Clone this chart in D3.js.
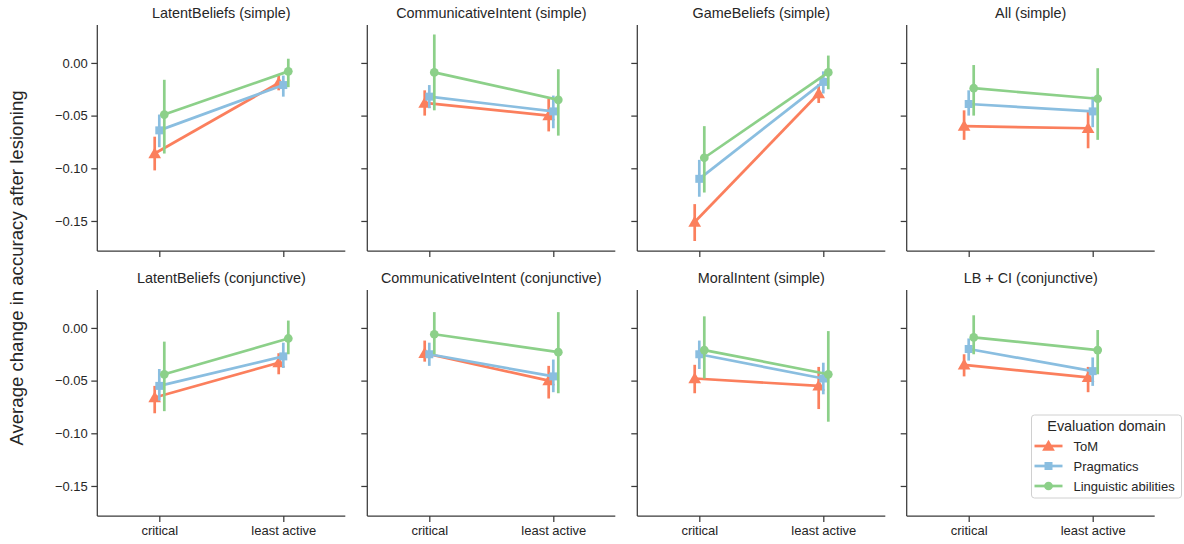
<!DOCTYPE html>
<html><head><meta charset="utf-8">
<script src="https://cdn.jsdelivr.net/npm/d3@7"></script>
<style>
body{margin:0;background:#fff;}
text{font-family:"Liberation Sans",Arial,sans-serif;fill:#262626;}
</style></head>
<body><svg id="c" width="1184" height="544"></svg>
<script>
const conditions = ["critical", "least active"];
const domains = ["ToM", "Pragmatics", "Linguistic abilities"];
const panelTitles = ["LatentBeliefs (simple)", "CommunicativeIntent (simple)", "GameBeliefs (simple)", "All (simple)",
  "LatentBeliefs (conjunctive)", "CommunicativeIntent (conjunctive)", "MoralIntent (simple)", "LB + CI (conjunctive)"];
const yTicks = [0.00, -0.05, -0.10, -0.15];
// per panel: [critical, least active] means for each domain
const tomMean   = [[-0.086,-0.019],[-0.038,-0.050],[-0.151,-0.029],[-0.060,-0.062],[-0.066,-0.033],[-0.024,-0.050],[-0.048,-0.055],[-0.035,-0.047]];
const tomLo     = [[-0.102,-0.026],[-0.050,-0.065],[-0.169,-0.038],[-0.073,-0.081],[-0.081,-0.044],[-0.032,-0.067],[-0.062,-0.077],[-0.046,-0.061]];
const tomHi     = [[-0.070,-0.012],[-0.026,-0.034],[-0.134,-0.020],[-0.045,-0.046],[-0.055,-0.024],[-0.012,-0.036],[-0.035,-0.037],[-0.025,-0.037]];
const pragMean  = [[-0.064,-0.021],[-0.032,-0.046],[-0.110,-0.018],[-0.039,-0.046],[-0.055,-0.027],[-0.025,-0.046],[-0.025,-0.048],[-0.020,-0.041]];
const pragLo    = [[-0.080,-0.032],[-0.043,-0.062],[-0.127,-0.029],[-0.050,-0.061],[-0.069,-0.038],[-0.036,-0.061],[-0.039,-0.063],[-0.031,-0.055]];
const pragHi    = [[-0.049,-0.012],[-0.021,-0.031],[-0.092,-0.008],[-0.026,-0.032],[-0.039,-0.014],[-0.014,-0.030],[-0.012,-0.033],[-0.010,-0.028]];
const lingMean  = [[-0.049,-0.008],[-0.009,-0.035],[-0.090,-0.009],[-0.024,-0.034],[-0.044,-0.010],[-0.006,-0.023],[-0.021,-0.044],[-0.009,-0.021]];
const lingLo    = [[-0.086,-0.023],[-0.045,-0.069],[-0.123,-0.025],[-0.050,-0.073],[-0.079,-0.025],[-0.025,-0.062],[-0.048,-0.089],[-0.025,-0.044]];
const lingHi    = [[-0.016,0.004],[0.027,-0.006],[-0.060,0.007],[-0.002,-0.005],[-0.013,0.007],[0.015,0.015],[0.011,-0.003],[0.012,-0.002]];
const colors = ["#fb7f5d", "#8abee0", "#8cd089"];

const series = [
  {mean: tomMean, lo: tomLo, hi: tomHi, sym: d3.symbolTriangle, size: 70},
  {mean: pragMean, lo: pragLo, hi: pragHi, sym: d3.symbolSquare, size: 64},
  {mean: lingMean, lo: lingLo, hi: lingHi, sym: d3.symbolCircle, size: 60}
];

const svg = d3.select("#c");
const lefts = [97.3, 367.3, 637.3, 906.7];
const tops = [25, 290];
const W = 248, H = 226;
const dodge = [-4.6, 0, 5];
const axisCol = "#3a3a3a";

const x = d3.scalePoint().domain(conditions).range([0, W]).padding(0.5);
const y = d3.scaleLinear().domain([-0.1785, 0.036]).range([H, 0]);

panelTitles.forEach((title, p) => {
  const r = Math.floor(p / 4), c = p % 4;
  const g = svg.append("g").attr("transform", `translate(${lefts[c]},${tops[r]})`);
  const ya = d3.axisLeft(y).tickValues(yTicks).tickSize(6).tickPadding(3.5)
    .tickFormat(c === 0 ? d3.format(".2f") : () => "");
  const yg = g.append("g").call(ya);
  const xa = d3.axisBottom(x).tickSize(6).tickPadding(4)
    .tickFormat(r === 1 ? (d => d) : () => "");
  const xg = g.append("g").attr("transform", `translate(0,${H})`).call(xa);
  [yg, xg].forEach(a => {
    a.select(".domain").attr("stroke", axisCol).attr("stroke-width", 1.25);
    a.selectAll(".tick line").attr("stroke", axisCol).attr("stroke-width", 1.25);
    a.selectAll(".tick text").style("font-size", "13px").style("font-family", "Liberation Sans, Arial, sans-serif").attr("fill", "#262626");
  });
  yg.selectAll(".tick text").text(d => c === 0 ? d3.format(".2f")(d).replace("-", "−") : "");
  yg.select(".domain").attr("d", `M0,${H}V0`);
  xg.select(".domain").attr("d", `M0,0H${W}`);

  g.append("text").attr("x", W / 2).attr("y", -7).attr("text-anchor", "middle")
    .style("font-size", "14.4px").text(title);

  series.forEach((s, k) => {
    const xs = conditions.map(cn => x(cn) + dodge[k]);
    const sg = g.append("g");
    conditions.forEach((cn, i) => {
      sg.append("line").attr("x1", xs[i]).attr("x2", xs[i])
        .attr("y1", y(s.lo[p][i])).attr("y2", y(s.hi[p][i]))
        .attr("stroke", colors[k]).attr("stroke-width", 2.7);
    });
    sg.append("path").datum(conditions.map((cn, i) => [xs[i], y(s.mean[p][i])]))
      .attr("d", d3.line()).attr("fill", "none").attr("stroke", colors[k]).attr("stroke-width", 2.7);
    conditions.forEach((cn, i) => {
      sg.append("path").attr("d", d3.symbol().type(s.sym).size(s.size)())
        .attr("transform", `translate(${xs[i]},${y(s.mean[p][i]) + (k === 0 ? 1 : 0)})`)
        .attr("fill", colors[k]);
    });
  });
});

// y label
svg.append("text").attr("transform", "translate(23,268) rotate(-90)")
  .attr("text-anchor", "middle").style("font-size", "18.6px")
  .text("Average change in accuracy after lesioning");

// legend
const lg = svg.append("g").attr("transform", "translate(1031.5,415)");
lg.append("rect").attr("width", 150).attr("height", 83).attr("rx", 3)
  .attr("fill", "#fff").attr("fill-opacity", 0.8).attr("stroke", "#d0d0d0").attr("stroke-width", 1);
lg.append("text").attr("x", 75).attr("y", 16).attr("text-anchor", "middle")
  .style("font-size", "14.4px").text("Evaluation domain");
domains.forEach((d, k) => {
  const yy = 31 + k * 20;
  lg.append("line").attr("x1", 3).attr("x2", 31).attr("y1", yy).attr("y2", yy)
    .attr("stroke", colors[k]).attr("stroke-width", 2.7);
  lg.append("path").attr("d", d3.symbol().type(series[k].sym).size(series[k].size)())
    .attr("transform", `translate(17,${yy + (k === 0 ? 1 : 0)})`).attr("fill", colors[k]);
  lg.append("text").attr("x", 42).attr("y", yy + 4.5).style("font-size", "13px").text(d);
});
</script>
</body></html>
